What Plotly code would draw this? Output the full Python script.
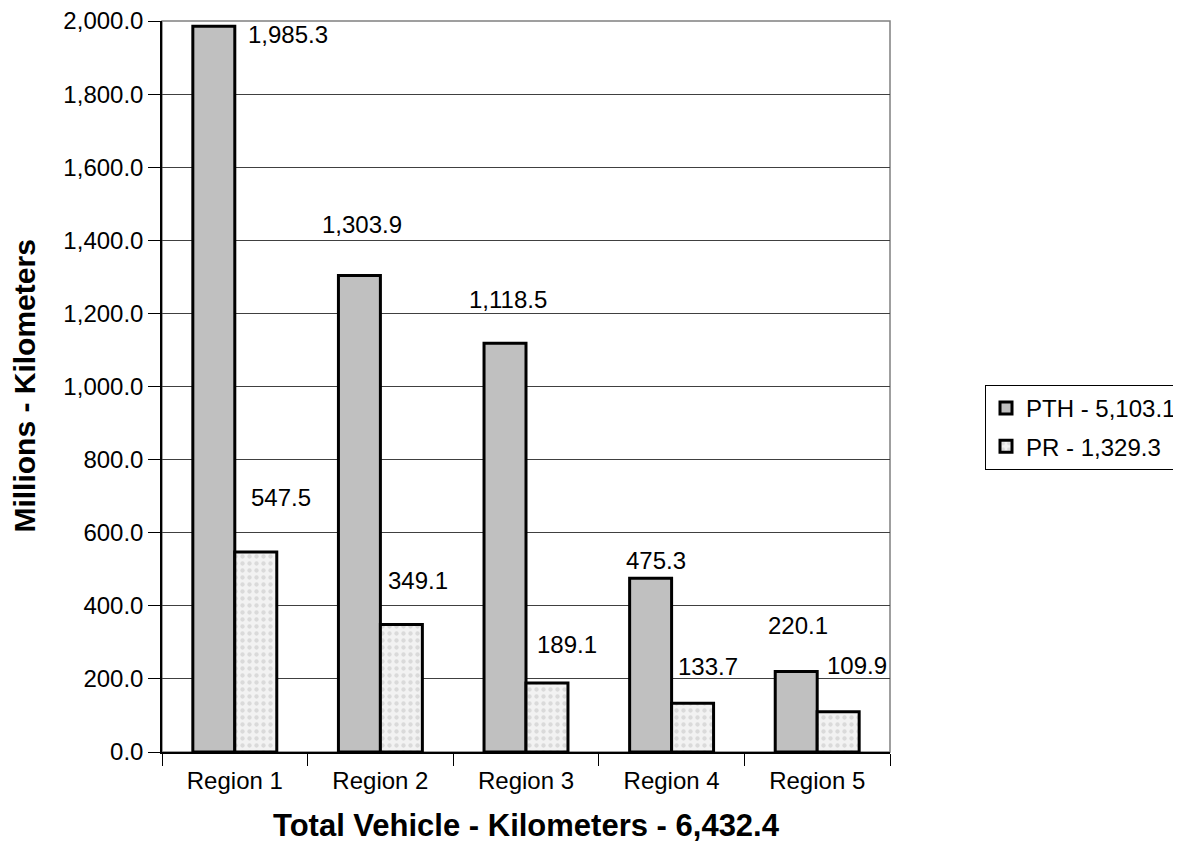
import plotly.graph_objects as go

categories = ["Region 1", "Region 2", "Region 3", "Region 4", "Region 5"]
pth_values = [1985.3, 1303.9, 1118.5, 475.3, 220.1]
pr_values = [547.5, 349.1, 189.1, 133.7, 109.9]
pth_name = "PTH - 5,103.1"
pr_name = "PR - 1,329.3"
x_title = "Total Vehicle - Kilometers - 6,432.4"
y_title = "Millions - Kilometers"

# label offsets (pixels, relative to bar top centre) to mimic the original placement
pth_shift = [(74, -8), (3, 51), (3, 44), (5, 18), (2, 46)]
pr_shift = [(25, 54), (17, 44), (20, 38), (15, 37), (19, 46)]

FONT = "Liberation Sans, Arial, sans-serif"
HALF_BAR = 21

fig = go.Figure()
fig.add_trace(go.Bar(
    x=categories, y=pth_values, name=pth_name, offsetgroup="a", legendgroup="a",
    marker=dict(color="#c0c0c0", line=dict(color="black", width=3)),
))
fig.add_trace(go.Bar(
    x=categories, y=pr_values, name=pr_name, offsetgroup="b", legendgroup="b",
    marker=dict(color="#efefef", line=dict(color="black", width=3),
                pattern=dict(shape=".", fgcolor="#dadada", bgcolor="#f2f2f2",
                             size=7, solidity=0.3, fillmode="replace")),
))

annotations = []
for i, c in enumerate(categories):
    for vals, shifts, side in ((pth_values, pth_shift, -1), (pr_values, pr_shift, 1)):
        dx, dy = shifts[i]
        annotations.append(dict(
            x=c, y=vals[i], xref="x", yref="y", text=f"{vals[i]:,.1f}",
            showarrow=False, xshift=side * HALF_BAR + dx, yshift=dy,
            font=dict(size=24, color="black", family=FONT),
        ))

annotations.append(dict(
    x=0.5, y=-0.101, xref="paper", yref="paper", text=f"<b>{x_title}</b>",
    showarrow=False, xanchor="center", yanchor="middle",
    font=dict(size=31, color="black", family=FONT),
))
annotations.append(dict(
    x=-0.1895, y=0.5, xref="paper", yref="paper", text=f"<b>{y_title}</b>",
    showarrow=False, xanchor="center", yanchor="middle", textangle=-90,
    font=dict(size=30, color="black", family=FONT),
))

fig.update_layout(
    width=1181, height=844,
    margin=dict(l=154, r=299, t=13, b=100, autoexpand=False),
    paper_bgcolor="white", plot_bgcolor="white",
    bargap=0.4235, bargroupgap=0,
    font=dict(family=FONT, color="black", size=24),
    annotations=annotations,
    showlegend=True,
    legend=dict(x=1.1305, y=0.3858, xanchor="left", yanchor="bottom",
                bgcolor="white", bordercolor="black", borderwidth=1,
                font=dict(size=24, family=FONT), itemwidth=30,
                traceorder="grouped", tracegroupgap=4),
    shapes=[dict(type="rect", xref="paper", yref="paper", x0=0, x1=1, y0=0, y1=1,
                 line=dict(color="#808080", width=1.5), layer="below")],
)
fig.update_xaxes(
    type="category", showline=True, linecolor="black", linewidth=1.5,
    ticks="outside", tickson="boundaries", ticklen=12, tickcolor="black",
    tickwidth=1, tickfont=dict(size=24), showgrid=False, automargin=False,
    ticklabelstandoff=6,
)
fig.update_yaxes(
    range=[0, 2000], dtick=200, tickformat=",.1f",
    showline=True, linecolor="black", linewidth=1.5,
    ticks="outside", ticklen=12, tickcolor="black", tickwidth=1,
    showgrid=True, gridcolor="#404040", gridwidth=1,
    tickfont=dict(size=24), zeroline=False, automargin=False,
    ticklabeloverflow="allow",
)

fig.write_html("out.html")
